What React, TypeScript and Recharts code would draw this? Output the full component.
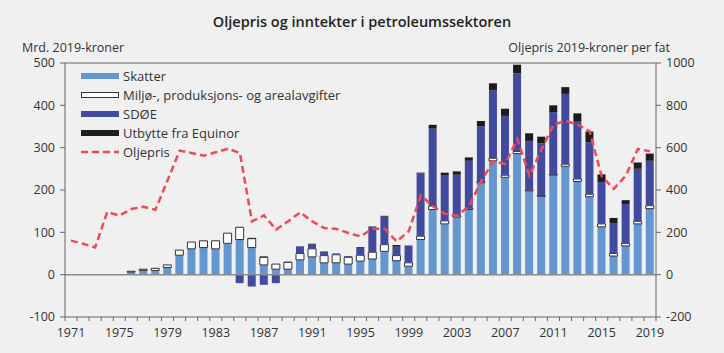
import React from "react";
import {
  ComposedChart,
  Bar,
  Line,
  XAxis,
  YAxis,
  ReferenceLine,
} from "recharts";

const years = [
  1971, 1972, 1973, 1974, 1975, 1976, 1977, 1978, 1979, 1980,
  1981, 1982, 1983, 1984, 1985, 1986, 1987, 1988, 1989, 1990,
  1991, 1992, 1993, 1994, 1995, 1996, 1997, 1998, 1999, 2000,
  2001, 2002, 2003, 2004, 2005, 2006, 2007, 2008, 2009, 2010,
  2011, 2012, 2013, 2014, 2015, 2016, 2017, 2018, 2019,
];

const skatter = [
  0, 0, 0, 0, 0, 6, 10, 10, 17, 46,
  61, 64, 61, 74, 83, 64, 23, 13, 13, 35,
  42, 28, 28, 25, 32, 37, 55, 33, 20, 83,
  154, 120, 136, 154, 217, 269, 230, 286, 198, 185,
  235, 256, 220, 184, 113, 44, 68, 120, 156,
];

const miljo = [
  0, 0, 0, 0, 0, 2, 3, 5, 6, 12,
  16, 16, 19, 24, 29, 21, 18, 12, 16, 15,
  19, 17, 19, 16, 14, 16, 16, 12, 8, 8,
  8, 7, 3, 3, 3, 6, 5, 5, 2, 2,
  2, 5, 6, 6, 7, 6, 6, 6, 7,
];

const sdoe = [
  0, 0, 0, 0, 0, 0, 0, 0, 0, 0,
  0, 0, 0, 0, -20, -28, -24, -20, 2, 17,
  10, 10, 2, 2, 17, 60, 66, 21, 41, 148,
  183, 107, 97, 112, 131, 160, 140, 185, 116, 123,
  147, 166, 137, 123, 99, 72, 93, 124, 106,
];

const equinor = [
  0, 0, 0, 0, 0, 0, 0, 0, 0, 0,
  0, 0, 0, 0, 0, 2, 2, 0, 0, 0,
  2, 0, 1, 1, 2, 1, 2, 4, 0, 2,
  9, 7, 8, 8, 12, 17, 17, 20, 18, 16,
  16, 16, 18, 25, 18, 12, 9, 15, 17,
];

const oljepris = [
  161, 146, 129, 296, 279, 310, 321, 307, 445, 586,
  575, 562, 578, 595, 575, 252, 280, 213, 252, 294,
  252, 220, 216, 197, 181, 217, 217, 157, 205, 375,
  323, 288, 280, 323, 441, 535, 523, 641, 468, 590,
  709, 727, 709, 677, 464, 405, 468, 594, 583,
];

const leftTicks = [-100, 0, 100, 200, 300, 400, 500];
const rightTicks = [-200, 0, 200, 400, 600, 800, 1000];

const data = years.map((y, i) => ({
  year: y,
  skatter: skatter[i],
  miljo: miljo[i],
  sdoe: sdoe[i],
  equinor: equinor[i],
  oljepris: oljepris[i],
}));

const W = 724;
const H = 353;
const MARGIN = { top: 63, right: 8, bottom: 6, left: 8 };
const LEFT_AXIS_W = 57;
const RIGHT_AXIS_W = 60;
const PLOT_W = W - MARGIN.left - MARGIN.right - LEFT_AXIS_W - RIGHT_AXIS_W;
const BAND = PLOT_W / years.length;

const FONT = "'Open Sans', 'Noto Sans', sans-serif";
const AXIS_COLOR = "#666";
const TEXT_COLOR = "#333";

const C_SKATTER = "#6497d0";
const C_SDOE = "#424a9e";
const C_EQUINOR = "#1c1c1c";
const C_OLJE = "#ec4a56";

const XTick = (props: any) => {
  const { x, y, payload, index } = props;
  const year = payload.value;
  const half = BAND / 2;
  return (
    <g>
      <line x1={x - half} x2={x - half} y1={y} y2={y + 4} stroke={AXIS_COLOR} strokeWidth={1} />
      {index === years.length - 1 && (
        <line x1={x + half} x2={x + half} y1={y} y2={y + 4} stroke={AXIS_COLOR} strokeWidth={1} />
      )}
      {(year - years[0]) % 4 === 0 && (
        <text x={x} y={y + 20} textAnchor="middle" fill={TEXT_COLOR} fontSize={12.5} fontFamily={FONT}>
          {year}
        </text>
      )}
    </g>
  );
};

const legendItems = [
  { label: "Skatter", kind: "bar", color: C_SKATTER },
  { label: "Miljø-, produksjons- og arealavgifter", kind: "bar", color: "#ffffff", border: "#333" },
  { label: "SDØE", kind: "bar", color: C_SDOE },
  { label: "Utbytte fra Equinor", kind: "bar", color: C_EQUINOR },
  { label: "Oljepris", kind: "line", color: C_OLJE },
];

const LegendBox = () => (
  <div
    style={{
      position: "absolute",
      left: 81,
      top: 66,
      fontFamily: FONT,
      fontSize: 13,
      color: TEXT_COLOR,
    }}
  >
    {legendItems.map((it) => (
      <div key={it.label} style={{ display: "flex", alignItems: "center", height: 19.2 }}>
        {it.kind === "bar" ? (
          <div
            style={{
              width: it.border ? 36 : 38,
              height: it.border ? 4 : 6,
              background: it.color,
              border: it.border ? `1px solid ${it.border}` : "none",
              marginRight: 4,
            }}
          />
        ) : (
          <svg width={38} height={6} style={{ marginRight: 4 }}>
            <line x1={0} x2={38} y1={3} y2={3} stroke={it.color} strokeWidth={2.5} strokeDasharray="7 4" />
          </svg>
        )}
        <span>{it.label}</span>
      </div>
    ))}
  </div>
);

export default function App() {
  return (
    <div
      style={{
        position: "absolute",
        left: 0,
        top: 0,
        width: W,
        height: H,
        background: "#f0f0f0",
        fontFamily: FONT,
      }}
    >
      <div
        style={{
          position: "absolute",
          left: 0,
          width: W,
          top: 12,
          textAlign: "center",
          fontSize: 14.5,
          fontWeight: 600,
          color: "#222",
        }}
      >
        Oljepris og inntekter i petroleumssektoren
      </div>
      <div style={{ position: "absolute", left: 22, top: 39, fontSize: 12.5, color: TEXT_COLOR }}>
        Mrd. 2019-kroner
      </div>
      <div style={{ position: "absolute", right: 54, top: 39, fontSize: 12.5, color: TEXT_COLOR }}>
        Oljepris 2019-kroner per fat
      </div>
      <ComposedChart
        width={W}
        height={H}
        data={data}
        margin={MARGIN}
        stackOffset="sign"
        barCategoryGap="15%"
        style={{ position: "absolute", left: 0, top: 0 }}
      >
        <XAxis
          dataKey="year"
          interval={0}
          tickLine={false}
          tickSize={0}
          tickMargin={0}
          height={30}
          stroke={AXIS_COLOR}
          tick={<XTick />}
          axisLine={{ stroke: AXIS_COLOR }}
        />
        <YAxis
          yAxisId="left"
          orientation="left"
          domain={[-100, 500]}
          ticks={leftTicks}
          width={LEFT_AXIS_W}
          tickSize={5}
          tickMargin={5}
          stroke={AXIS_COLOR}
          tick={{ fill: TEXT_COLOR, fontSize: 12.5, fontFamily: FONT }}
          allowDataOverflow
        />
        <YAxis
          yAxisId="right"
          orientation="right"
          domain={[-200, 1000]}
          ticks={rightTicks}
          width={RIGHT_AXIS_W}
          tickSize={5}
          tickMargin={5}
          stroke={AXIS_COLOR}
          tick={{ fill: TEXT_COLOR, fontSize: 12.5, fontFamily: FONT, textAnchor: "start" }}
          allowDataOverflow
        />
        <ReferenceLine yAxisId="left" y={500} stroke={AXIS_COLOR} strokeWidth={1} />
        <Bar yAxisId="left" dataKey="skatter" stackId="a" fill={C_SKATTER} isAnimationActive={false} />
        <Bar
          yAxisId="left"
          dataKey="miljo"
          stackId="a"
          fill="#ffffff"
          stroke="#333"
          strokeWidth={1}
          isAnimationActive={false}
        />
        <Bar yAxisId="left" dataKey="sdoe" stackId="a" fill={C_SDOE} isAnimationActive={false} />
        <Bar yAxisId="left" dataKey="equinor" stackId="a" fill={C_EQUINOR} isAnimationActive={false} />
        <ReferenceLine yAxisId="left" y={0} stroke="#8a8a8a" strokeWidth={1.5} />
        <Line
          yAxisId="right"
          type="linear"
          dataKey="oljepris"
          stroke={C_OLJE}
          strokeWidth={2.5}
          strokeDasharray="7 4"
          dot={false}
          activeDot={false}
          isAnimationActive={false}
        />
      </ComposedChart>
      <LegendBox />
    </div>
  );
}
